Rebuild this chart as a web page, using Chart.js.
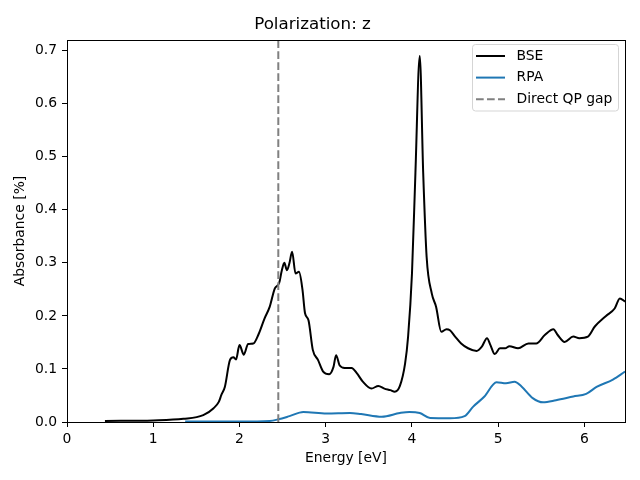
<!DOCTYPE html>
<html>
<head>
<meta charset="utf-8">
<script src="https://cdn.jsdelivr.net/npm/chart.js@4/dist/chart.umd.min.js"></script>
<style>
  html, body { margin: 0; padding: 0; background: #fff; }
  #wrap { width: 640px; height: 480px; }
</style>
</head>
<body>
<div id="wrap"><canvas id="myChart" width="640" height="480"></canvas></div>
<script>
// Absorption spectrum, polarization z
var energyBSE = [0.44, 1.0, 1.35, 1.58, 1.70, 1.76, 1.79, 1.83, 1.89, 1.93, 1.96, 2.0, 2.05, 2.1, 2.16, 2.22, 2.29, 2.35, 2.41, 2.46, 2.49, 2.52, 2.55, 2.58, 2.61, 2.65, 2.69, 2.73, 2.76, 2.80, 2.85, 2.91, 2.97, 3.04, 3.09, 3.12, 3.16, 3.22, 3.30, 3.36, 3.43, 3.53, 3.61, 3.68, 3.75, 3.80, 3.86, 3.92, 3.955, 4.00, 4.04, 4.09, 4.13, 4.17, 4.23, 4.28, 4.34, 4.40, 4.44, 4.50, 4.57, 4.65, 4.75, 4.81, 4.87, 4.91, 4.96, 5.02, 5.08, 5.13, 5.23, 5.35, 5.44, 5.54, 5.64, 5.69, 5.77, 5.87, 5.94, 6.04, 6.12, 6.25, 6.35, 6.41, 6.47];
var absBSE = [0.002, 0.003, 0.006, 0.013, 0.026, 0.038, 0.051, 0.066, 0.117, 0.122, 0.118, 0.145, 0.127, 0.147, 0.148, 0.165, 0.195, 0.217, 0.252, 0.262, 0.285, 0.300, 0.286, 0.300, 0.321, 0.280, 0.283, 0.25, 0.205, 0.192, 0.136, 0.117, 0.095, 0.090, 0.104, 0.126, 0.107, 0.102, 0.102, 0.092, 0.076, 0.063, 0.068, 0.063, 0.060, 0.057, 0.068, 0.110, 0.161, 0.28, 0.47, 0.69, 0.47, 0.311, 0.242, 0.217, 0.170, 0.175, 0.173, 0.161, 0.148, 0.139, 0.134, 0.142, 0.158, 0.145, 0.128, 0.139, 0.139, 0.143, 0.139, 0.148, 0.148, 0.164, 0.175, 0.164, 0.151, 0.161, 0.158, 0.161, 0.18, 0.20, 0.214, 0.233, 0.227];

var energyRPA = [1.37, 2.0, 2.35, 2.45, 2.58, 2.74, 3.01, 3.28, 3.41, 3.65, 3.86, 3.97, 4.09, 4.21, 4.44, 4.61, 4.71, 4.84, 4.98, 5.09, 5.19, 5.27, 5.40, 5.52, 5.67, 5.87, 6.02, 6.14, 6.33, 6.47];
var absRPA = [0.001, 0.001, 0.002, 0.005, 0.011, 0.019, 0.016, 0.017, 0.015, 0.010, 0.017, 0.019, 0.017, 0.0075, 0.007, 0.011, 0.029, 0.048, 0.075, 0.073, 0.076, 0.067, 0.045, 0.037, 0.041, 0.048, 0.053, 0.066, 0.080, 0.095];

var qpGap = 2.45;
var xTicks = [0, 1, 2, 3, 4, 5, 6];
var yTicks = [0.0, 0.1, 0.2, 0.3, 0.4, 0.5, 0.6, 0.7];
var xMax = 6.47;
var yMax = 0.72;

var fonte = "'DejaVu Sans', sans-serif";

function pares(xs, ys) {
    return xs.map(function(x, i) { return { x: x, y: ys[i] }; });
}

// moldura do gráfico + legenda ao estilo matplotlib
var molduraPlugin = {
    id: 'moldura',
    afterDraw: function(chart) {
        var ctx = chart.ctx;
        var a = chart.chartArea;
        ctx.save();
        ctx.strokeStyle = '#000';
        ctx.lineWidth = 1;
        ctx.strokeRect(Math.round(a.left) + 0.5, Math.round(a.top) + 0.5, Math.round(a.right - a.left), Math.round(a.bottom - a.top));

        // legenda
        var bx = 472.5, by = 44.5, bw = 146, bh = 66.5, r = 3;
        ctx.beginPath();
        ctx.moveTo(bx + r, by);
        ctx.arcTo(bx + bw, by, bx + bw, by + bh, r);
        ctx.arcTo(bx + bw, by + bh, bx, by + bh, r);
        ctx.arcTo(bx, by + bh, bx, by, r);
        ctx.arcTo(bx, by, bx + bw, by, r);
        ctx.closePath();
        ctx.fillStyle = 'rgba(255,255,255,0.8)';
        ctx.fill();
        ctx.strokeStyle = '#d5d5d5';
        ctx.stroke();

        var itens = chart.data.datasets;
        ctx.font = '13.9px ' + fonte;
        ctx.textBaseline = 'middle';
        ctx.textAlign = 'left';
        itens.forEach(function(ds, i) {
            var y = 56 + i * 21.6;
            ctx.beginPath();
            ctx.setLineDash(ds.borderDash || []);
            ctx.strokeStyle = ds.borderColor;
            ctx.lineWidth = ds.borderWidth;
            ctx.moveTo(476, y);
            ctx.lineTo(505, y);
            ctx.stroke();
            ctx.setLineDash([]);
            ctx.fillStyle = '#000';
            ctx.fillText(ds.label, 516.5, y);
        });
        ctx.restore();
    }
};

window.onload = function() {
    var ctx = document.getElementById('myChart').getContext('2d');

    var myChart = new Chart(ctx, {
        type: 'line',
        data: {
            datasets: [{
                label: 'BSE',
                data: pares(energyBSE, absBSE),
                borderColor: '#000000',
                borderWidth: 2,
                pointRadius: 0,
                cubicInterpolationMode: 'monotone',
                fill: false,
                order: 3
            }, {
                label: 'RPA',
                data: pares(energyRPA, absRPA),
                borderColor: '#1f77b4',
                borderWidth: 2,
                pointRadius: 0,
                cubicInterpolationMode: 'monotone',
                fill: false,
                order: 2
            }, {
                label: 'Direct QP gap',
                data: [{ x: qpGap, y: 0 }, { x: qpGap, y: yMax }],
                borderColor: '#808080',
                borderWidth: 2,
                borderDash: [7.7, 3.3],
                pointRadius: 0,
                fill: false,
                order: 1
            }]
        },
        options: {
            responsive: false,
            animation: false,
            events: [],
            layout: { padding: { left: 0, right: 15, top: 0, bottom: 0 } },
            plugins: {
                legend: { display: false },
                tooltip: { enabled: false },
                title: {
                    display: true,
                    text: 'Polarization: z',
                    color: '#000',
                    font: { family: fonte, size: 16.7, weight: 'normal' },
                    padding: { top: 15, bottom: 5 }
                }
            },
            scales: {
                x: {
                    type: 'linear',
                    min: 0,
                    max: xMax,
                    afterBuildTicks: function(s) { s.ticks = xTicks.map(function(v) { return { value: v }; }); },
                    afterFit: function(s) { s.height = 58; },
                    ticks: {
                        color: '#000',
                        padding: 4,
                        maxRotation: 0,
                        font: { family: fonte, size: 13.9 },
                        callback: function(v) { return String(v); }
                    },
                    grid: { drawOnChartArea: false, tickLength: 5, tickColor: '#000', color: '#000' },
                    border: { display: false },
                    title: {
                        display: true,
                        text: 'Energy [eV]',
                        color: '#000',
                        font: { family: fonte, size: 13.9 },
                        padding: { top: 0, bottom: 13 }
                    }
                },
                y: {
                    min: 0,
                    max: yMax,
                    afterBuildTicks: function(s) { s.ticks = yTicks.map(function(v) { return { value: v }; }); },
                    afterFit: function(s) { s.width = 67; },
                    ticks: {
                        color: '#000',
                        padding: 5,
                        font: { family: fonte, size: 13.9 },
                        callback: function(v) { return Number(v).toFixed(1); }
                    },
                    grid: { drawOnChartArea: false, tickLength: 5, tickColor: '#000', color: '#000' },
                    border: { display: false },
                    title: {
                        display: true,
                        text: 'Absorbance [%]',
                        color: '#000',
                        font: { family: fonte, size: 13.9 },
                        padding: { top: 12, bottom: 0 }
                    }
                }
            }
        },
        plugins: [molduraPlugin]
    });
};
</script>
</body>
</html>
